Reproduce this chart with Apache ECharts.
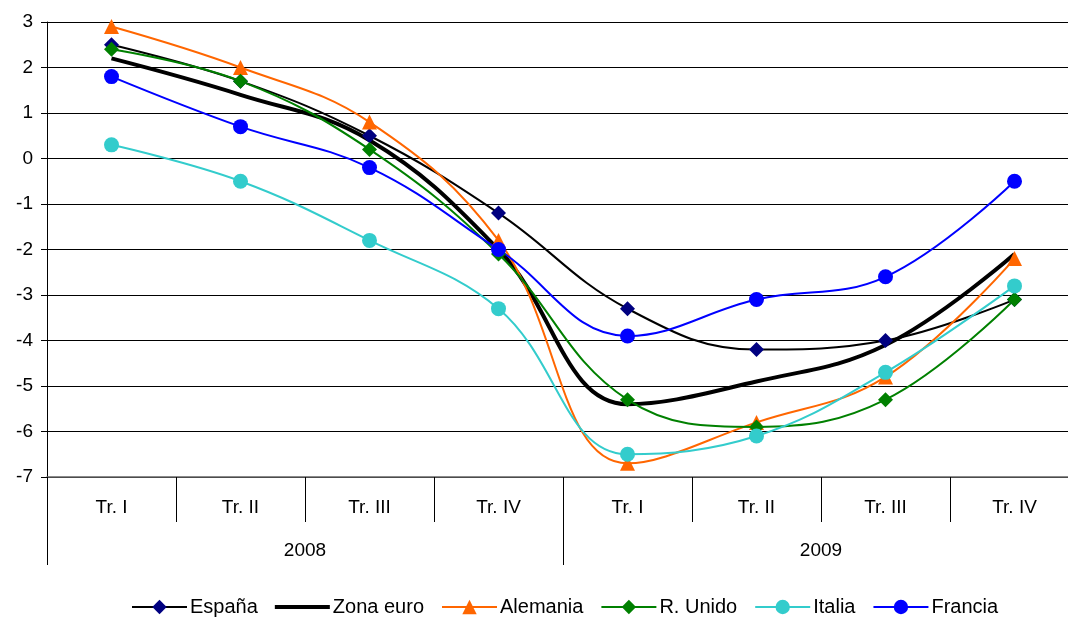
<!DOCTYPE html>
<html>
<head>
<meta charset="utf-8">
<script src="https://cdn.jsdelivr.net/npm/echarts@6/dist/echarts.min.js"></script>
<style>
    html, body { margin: 0; padding: 0; background: #fff; overflow: hidden; }
    #chart { width: 1079px; height: 618px; }
</style>
</head>
<body>
<div id="chart"></div>
<script>
// 数据
const quarters = ['Tr. I', 'Tr. II', 'Tr. III', 'Tr. IV', 'Tr. I', 'Tr. II', 'Tr. III', 'Tr. IV'];
const years = ['2008', '2009'];
const espana = [2.5, 1.7, 0.5, -1.2, -3.3, -4.2, -4.0, -3.1];
const zonaEuro = [2.2, 1.4, 0.4, -2.0, -5.4, -4.9, -4.1, -2.1];
const alemania = [2.9, 2.0, 0.8, -1.8, -6.7, -5.8, -4.8, -2.2];
const rUnido = [2.4, 1.7, 0.2, -2.1, -5.3, -5.9, -5.3, -3.1];
const italia = [0.3, -0.5, -1.8, -3.3, -6.5, -6.1, -4.7, -2.8];
const francia = [1.8, 0.7, -0.2, -2.0, -3.9, -3.1, -2.6, -0.5];
const yTicks = [-7, 3, 1]; // min, max, interval

function initChart() {
    const chart = echarts.init(document.getElementById('chart'));
    const font = 'Liberation Sans, Arial, sans-serif';

    function line(name, data, color, markerColor, symbol, size, width) {
        return {
            name: name,
            type: 'line',
            xAxisIndex: 0,
            data: data,
            smooth: 0.4,
            symbol: symbol,
            symbolSize: size,
            lineStyle: { color: color, width: width },
            itemStyle: { color: markerColor },
            emphasis: { disabled: true }
        };
    }

    // 粗线图例图标（无标记）
    const thickLine = 'path://M0,7L55,7L55,11L0,11Z M0,0L0.01,0L0,0.01Z M55,18L54.99,18L55,17.99Z';

    const option = {
        animation: false,
        textStyle: { fontFamily: font },
        grid: { left: 47, right: 0, top: 22, bottom: 141 },
        legend: {
            left: 126,
            top: 592,
            itemWidth: 55,
            itemHeight: 18,
            itemGap: 17,
            textStyle: { fontSize: 20, color: '#000', fontFamily: font, padding: [0, 0, 0, -2] },
            data: [
                'España',
                { name: 'Zona euro', icon: thickLine, itemStyle: { color: '#000' } },
                'Alemania', 'R. Unido', 'Italia', 'Francia'
            ]
        },
        xAxis: [{
            type: 'category',
            data: quarters,
            boundaryGap: true,
            axisLine: { onZero: false, lineStyle: { color: '#666', width: 1.5 } },
            axisTick: { show: true, length: 45, lineStyle: { color: '#000' } },
            axisLabel: { margin: 21, fontSize: 19, color: '#000', interval: 0 }
        }, {
            type: 'category',
            data: years,
            position: 'bottom',
            boundaryGap: true,
            axisLine: { show: false, onZero: false },
            axisTick: { show: true, length: 88, lineStyle: { color: '#000' } },
            axisLabel: { margin: 64, fontSize: 19, color: '#000' }
        }],
        yAxis: {
            type: 'value',
            min: yTicks[0],
            max: yTicks[1],
            interval: yTicks[2],
            axisLine: { show: true, lineStyle: { color: '#000' } },
            axisTick: { show: true, length: 6, lineStyle: { color: '#000' } },
            axisLabel: { fontSize: 19, color: '#000', margin: 14 },
            splitLine: { lineStyle: { color: '#000', width: 1 } }
        },
        series: [
            line('España', espana, '#000000', '#000080', 'diamond', 15, 2),
            line('Zona euro', zonaEuro, '#000000', '#000000', 'none', 0, 4),
            line('Alemania', alemania, '#FF6600', '#FF6600', 'triangle', 15, 2),
            line('R. Unido', rUnido, '#008000', '#008000', 'diamond', 15, 2),
            line('Italia', italia, '#33CCCC', '#33CCCC', 'circle', 15, 2),
            line('Francia', francia, '#0000FF', '#0000FF', 'circle', 15, 2)
        ]
    };

    chart.setOption(option);
}

window.onload = function() {
    initChart();
};
</script>
</body>
</html>
